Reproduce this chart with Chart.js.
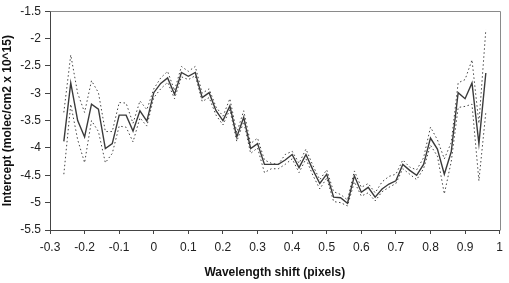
<!DOCTYPE html>
<html>
<head>
<meta charset="utf-8">
<script src="https://cdn.jsdelivr.net/npm/chart.js@4"></script>
<style>
  html, body { margin: 0; padding: 0; background: #fff; }
  #wrap { width: 509px; height: 283px; }
</style>
</head>
<body>
<div id="wrap"><canvas id="grafico" width="509" height="283"></canvas></div>
<script>
// deslocamento (pixels) e valores
const deslocamento = [-0.26, -0.24, -0.22, -0.20, -0.18, -0.16, -0.14, -0.12, -0.10, -0.08,
  -0.06, -0.04, -0.02, 0.00, 0.02, 0.04, 0.06, 0.08, 0.10, 0.12,
  0.14, 0.16, 0.18, 0.20, 0.22, 0.24, 0.26, 0.28, 0.30, 0.32,
  0.34, 0.36, 0.38, 0.40, 0.42, 0.44, 0.46, 0.48, 0.50, 0.52,
  0.54, 0.56, 0.58, 0.60, 0.62, 0.64, 0.66, 0.68, 0.70, 0.72,
  0.74, 0.76, 0.78, 0.80, 0.82, 0.84, 0.86, 0.88, 0.90, 0.92,
  0.94, 0.96];

const intercepto = [-3.88, -2.81, -3.50, -3.80, -3.20, -3.29, -4.01, -3.92, -3.40, -3.40,
  -3.69, -3.32, -3.51, -2.99, -2.82, -2.72, -3.02, -2.62, -2.69, -2.62,
  -3.08, -2.99, -3.32, -3.50, -3.23, -3.80, -3.44, -4.01, -3.92, -4.30,
  -4.30, -4.30, -4.22, -4.12, -4.36, -4.12, -4.40, -4.65, -4.48, -4.90,
  -4.91, -5.01, -4.51, -4.81, -4.72, -4.90, -4.75, -4.66, -4.60, -4.30,
  -4.41, -4.50, -4.30, -3.82, -4.02, -4.48, -4.07, -2.99, -3.10, -2.81,
  -3.92, -2.63];

const limiteSuperior = [-3.35, -2.30, -3.00, -3.35, -2.77, -2.99, -3.70, -3.70, -3.17, -3.18,
  -3.55, -3.14, -3.30, -2.92, -2.72, -2.60, -2.95, -2.51, -2.60, -2.51,
  -3.00, -2.92, -3.25, -3.42, -3.10, -3.72, -3.32, -3.92, -3.82, -4.22,
  -4.28, -4.30, -4.12, -4.06, -4.28, -4.02, -4.32, -4.58, -4.40, -4.80,
  -4.85, -4.95, -4.42, -4.72, -4.65, -4.82, -4.62, -4.52, -4.48, -4.22,
  -4.35, -4.40, -4.18, -3.62, -3.85, -4.20, -3.90, -2.81, -2.75, -2.39,
  -3.55, -1.84];

const limiteInferior = [-4.48, -3.20, -3.85, -4.27, -3.50, -3.70, -4.27, -4.10, -3.60, -3.62,
  -3.89, -3.45, -3.60, -3.08, -2.92, -2.80, -3.10, -2.70, -2.75, -2.68,
  -3.15, -3.08, -3.40, -3.58, -3.30, -3.88, -3.52, -4.10, -4.00, -4.45,
  -4.38, -4.38, -4.30, -4.20, -4.45, -4.20, -4.50, -4.75, -4.55, -4.98,
  -5.00, -5.06, -4.62, -4.88, -4.82, -4.97, -4.80, -4.72, -4.65, -4.38,
  -4.48, -4.58, -4.38, -3.95, -4.15, -4.84, -4.25, -3.26, -3.24, -3.20,
  -4.60, -3.35];

const eixoX = { min: -0.3, max: 1, passo: 0.1, titulo: 'Wavelength shift (pixels)' };
const eixoY = { min: -5.5, max: -1.5, passo: 0.5, titulo: 'Intercept (molec/cm2 x 10^15)' };

function pontos(valores) {
  return deslocamento.map((x, i) => ({ x: x, y: valores[i] }));
}

// moldura cinza em cima e à direita da área do gráfico
const moldura = {
  id: 'moldura',
  afterDraw(chart) {
    const a = chart.chartArea;
    const ctx = chart.ctx;
    ctx.save();
    ctx.strokeStyle = '#8a8a8a';
    ctx.lineWidth = 1;
    ctx.beginPath();
    ctx.moveTo(Math.round(a.left) + 0.5, Math.round(a.top) + 0.5);
    ctx.lineTo(Math.round(a.right) + 0.5, Math.round(a.top) + 0.5);
    ctx.lineTo(Math.round(a.right) + 0.5, Math.round(a.bottom) + 0.5);
    ctx.stroke();
    ctx.restore();
  }
};

const fonte = "'Liberation Sans', Arial, sans-serif";
const linhaPontilhada = {
  borderColor: '#444',
  borderWidth: 1,
  borderDash: [1.5, 2.5],
  pointRadius: 0,
  tension: 0,
  fill: false
};

new Chart(document.getElementById('grafico').getContext('2d'), {
  type: 'scatter',
  data: {
    datasets: [
      Object.assign({ label: 'superior', data: pontos(limiteSuperior), showLine: true }, linhaPontilhada),
      Object.assign({ label: 'inferior', data: pontos(limiteInferior), showLine: true }, linhaPontilhada),
      {
        label: 'intercepto',
        data: pontos(intercepto),
        showLine: true,
        borderColor: '#3a3a3a',
        borderWidth: 1.4,
        pointRadius: 0,
        tension: 0,
        fill: false
      }
    ]
  },
  options: {
    responsive: false,
    animation: false,
    devicePixelRatio: 1,
    layout: { padding: { top: 7, right: 8, left: 0, bottom: 0 } },
    plugins: { legend: { display: false }, tooltip: { enabled: false } },
    scales: {
      x: {
        type: 'linear',
        min: eixoX.min,
        max: eixoX.max,
        afterFit(s) { s.height = 53; },
        afterBuildTicks(s) {
          const t = [];
          for (let v = eixoX.min; v <= eixoX.max + 1e-9; v += eixoX.passo) t.push({ value: +v.toFixed(1) });
          s.ticks = t;
        },
        border: { display: true, color: '#444', width: 1 },
        grid: { display: true, drawOnChartArea: false, drawTicks: true, tickLength: 4, tickColor: '#444' },
        ticks: {
          color: '#222',
          font: { family: fonte, size: 12 },
          padding: 6,
          maxRotation: 0,
          autoSkip: false,
          callback: v => String(+v.toFixed(1))
        },
        title: {
          display: true,
          text: eixoX.titulo,
          color: '#111',
          font: { family: fonte, size: 12, weight: 'bold' },
          padding: { top: 2, bottom: 3 }
        }
      },
      y: {
        type: 'linear',
        min: eixoY.min,
        max: eixoY.max,
        afterFit(s) { s.width = 50; },
        afterBuildTicks(s) {
          const t = [];
          for (let v = eixoY.min; v <= eixoY.max + 1e-9; v += eixoY.passo) t.push({ value: +v.toFixed(1) });
          s.ticks = t;
        },
        border: { display: true, color: '#444', width: 1 },
        grid: { display: true, drawOnChartArea: false, drawTicks: true, tickLength: 5, tickColor: '#444' },
        ticks: {
          color: '#222',
          font: { family: fonte, size: 12 },
          padding: 4,
          autoSkip: false,
          callback: v => String(+v.toFixed(1))
        },
        title: {
          display: true,
          text: eixoY.titulo,
          color: '#111',
          font: { family: fonte, size: 12, weight: 'bold' },
          padding: { top: 0, bottom: 0 }
        }
      }
    }
  },
  plugins: [moldura]
});
</script>
</body>
</html>
